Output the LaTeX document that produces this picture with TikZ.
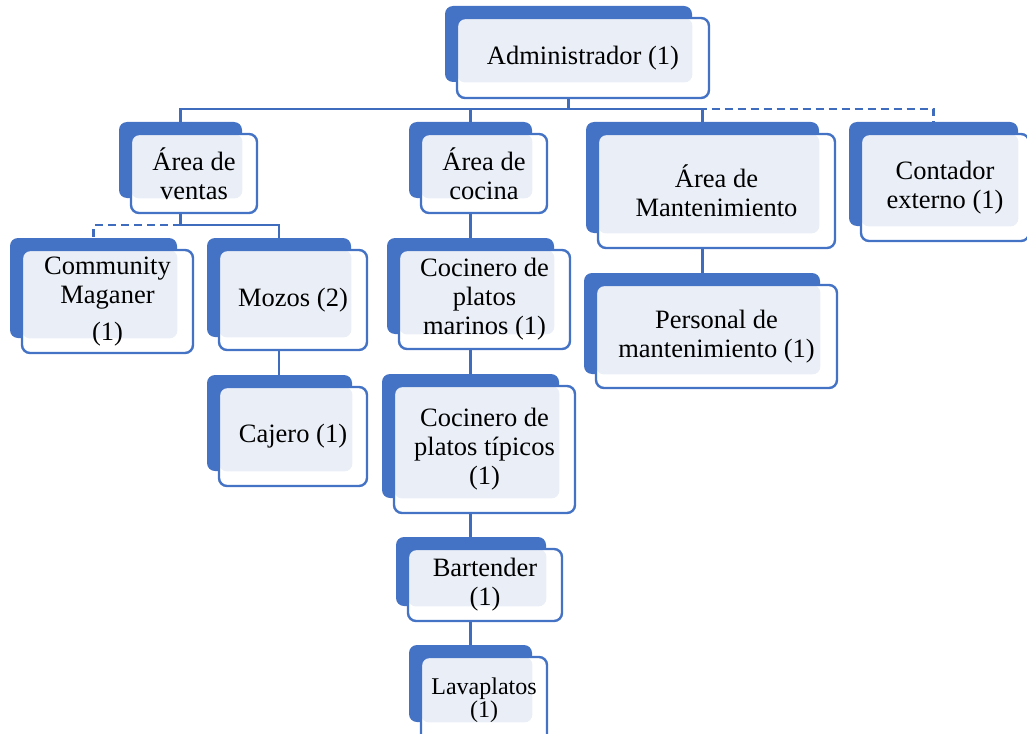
\documentclass[tikz,border=0pt]{standalone}
\usepackage{fontspec}
\setmainfont{Liberation Serif}
\definecolor{boxblue}{HTML}{4472C4}
\definecolor{boxlight}{HTML}{EAEFF7}
\definecolor{linkblue}{HTML}{3F6CBD}

% back box x1 y1 x2 y2, front corner x2 y2, text
\newcommand{\orgbox}[9][]{%
  \node[backbox, minimum width={(#5-#3)*0.5pt}, minimum height={(#6-#4)*0.5pt}] (#2B) at ({(#3+#5)/2},{(#4+#6)/2}) {};
  \node[frontbox, #1, minimum width={(#7-#3-12)*0.5pt}, minimum height={(#8-#4-12)*0.5pt},
        path picture={\fill[boxlight, rounded corners=4pt] (path picture bounding box.north west) rectangle (#2B.south east);}]
        (#2) at ({(#3+12+#7)/2},{(#4+12+#8)/2}) {#9};
}

\begin{document}
\begin{tikzpicture}[x=0.5pt, y=-0.5pt,
  backbox/.style={fill=boxblue, rounded corners=4pt, inner sep=0pt},
  frontbox/.style={draw=boxblue, line width=1.2pt, fill=white, rounded corners=4pt, inner sep=0pt, align=center, font=\fontsize{13.25}{14.5}\selectfont},
  conn/.style={draw=linkblue, line width=1.25pt},
  dashconn/.style={conn, dash pattern=on 4pt off 2.5pt}]
  \useasboundingbox (0,0) rectangle (1027,733);

  \orgbox{admin}{445}{6}{692}{82}{709}{98}{Administrador (1)}
  \orgbox{ventas}{119}{122}{242}{198}{257}{213}{Área de\\ventas}
  \orgbox{cocina}{409}{122}{532}{198}{547}{213}{Área de\\cocina}
  \orgbox{mant}{586}{122}{819}{233}{835}{248}{Área de\\Mantenimiento}
  \orgbox{conta}{849}{122}{1018}{226}{1029}{241}{Contador\\externo (1)}
  \orgbox{comm}{10}{238}{177}{338}{193}{353}{Community\\Maganer\\[4pt](1)}
  \orgbox{mozos}{207}{238}{351}{337}{367}{350}{Mozos (2)}
  \orgbox{cajero}{207}{375}{352}{471}{367}{486}{Cajero (1)}
  \orgbox{marinos}{387}{238}{554}{334}{570}{349}{Cocinero de\\platos\\marinos (1)}
  \orgbox{tipicos}{382}{374}{559}{498}{575}{513}{Cocinero de\\platos típicos\\(1)}
  \orgbox{bart}{396}{537}{546}{606}{562}{621}{Bartender\\(1)}
  \orgbox[font=\fontsize{12}{11.5}\selectfont]{lava}{409}{645}{532}{722}{547}{743}{Lavaplatos\\(1)}
  \orgbox{personal}{584}{273}{820}{374}{837}{388}{Personal de\\mantenimiento (1)}

  \coordinate (topbus) at (adminB.south |- 0,109);
  \coordinate (salesbus) at (ventasB.south |- 0,225);
  \draw[conn] (adminB.south |- admin.south) -- (topbus);
  \draw[conn] (ventasB.north) |- (topbus) -| (mantB.north);
  \draw[conn] (cocinaB.north) -- (cocinaB.north |- topbus);
  \draw[dashconn] (topbus) -| (contaB.north);
  \draw[conn] (ventasB.south |- ventas.south) -- (salesbus) -| (mozosB.north);
  \draw[dashconn] (salesbus) -| (commB.north);
  \draw[conn] (mozosB.south |- mozos.south) -- (mozosB.south |- cajeroB.north);
  \draw[conn] (cocinaB.south |- cocina.south) -- (cocinaB.south |- marinosB.north);
  \draw[conn] (cocinaB.south |- marinos.south) -- (cocinaB.south |- tipicosB.north);
  \draw[conn] (cocinaB.south |- tipicos.south) -- (cocinaB.south |- bartB.north);
  \draw[conn] (cocinaB.south |- bart.south) -- (cocinaB.south |- lavaB.north);
  \draw[conn] (mantB.south |- mant.south) -- (mantB.south |- personalB.north);
\end{tikzpicture}
\end{document}
